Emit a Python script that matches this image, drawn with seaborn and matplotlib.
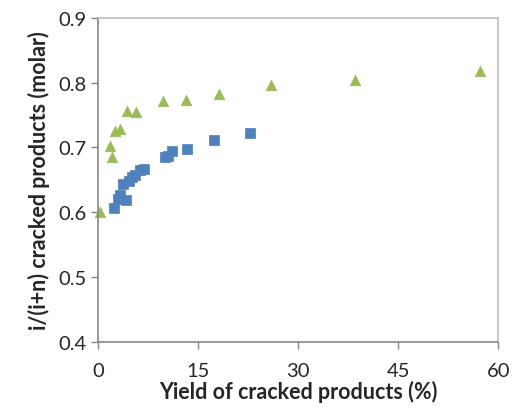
import numpy as np
import pandas as pd
import matplotlib
matplotlib.use("Agg")
import matplotlib.pyplot as plt
import seaborn as sns

# series
blue_x = [2.4, 3.0, 3.3, 4.1, 3.7, 4.6, 5.1, 5.5, 6.2, 6.8, 10.0, 10.4, 11.0, 13.3, 17.4, 22.8]
blue_y = [0.607, 0.621, 0.627, 0.619, 0.644, 0.648, 0.655, 0.657, 0.665, 0.667,
          0.686, 0.687, 0.695, 0.698, 0.711, 0.723]
green_x = [0.3, 1.8, 2.1, 2.5, 3.2, 4.3, 5.6, 9.7, 13.2, 18.1, 25.9, 38.5, 57.2]
green_y = [0.600, 0.702, 0.685, 0.725, 0.728, 0.756, 0.755, 0.771, 0.773, 0.783,
           0.796, 0.804, 0.818]

x_ticks = [0, 15, 30, 45, 60]
y_ticks = [0.4, 0.5, 0.6, 0.7, 0.8, 0.9]

sns.set_style("white")
plt.rcParams['font.family'] = ['Lato', 'DejaVu Sans']

fig = plt.figure(figsize=(5.12, 4.14), dpi=100)
ax = fig.add_axes([0.192, 0.171, 0.781, 0.784])

sns.scatterplot(x=blue_x, y=blue_y, marker="s", s=46, color="#4F81BD",
                edgecolor="#4F81BD", linewidth=0.5, clip_on=False, ax=ax)
sns.scatterplot(x=green_x, y=green_y, marker="^", s=58, color="#9BBB59",
                edgecolor="#9BBB59", linewidth=0.5, clip_on=False, ax=ax)

ax.set_xlim(0, 60)
ax.set_ylim(0.4, 0.9)
ax.set_xticks(x_ticks)
ax.set_yticks(y_ticks)
ax.set_xticklabels([str(t) for t in x_ticks])
ax.set_yticklabels([f"{t:.1f}" for t in y_ticks])
ax.tick_params(axis="both", direction="out", length=5, width=1, color="#868686",
               labelsize=14.5, labelcolor="#262626", bottom=True, left=True)
ax.tick_params(axis="x", pad=9)

for side in ["left", "bottom"]:
    ax.spines[side].set_color("#868686")
    ax.spines[side].set_linewidth(1.2)
for side in ["top", "right"]:
    ax.spines[side].set_color("#BEBEBE")
    ax.spines[side].set_linewidth(1.2)

ax.set_xlabel("Yield of cracked products (%)", fontsize=15.5, fontweight="bold", labelpad=1)
ax.set_ylabel("i/(i+n) cracked products (molar)", fontsize=15.5, fontweight="bold", labelpad=6)

fig.savefig("out.png", dpi=100)
